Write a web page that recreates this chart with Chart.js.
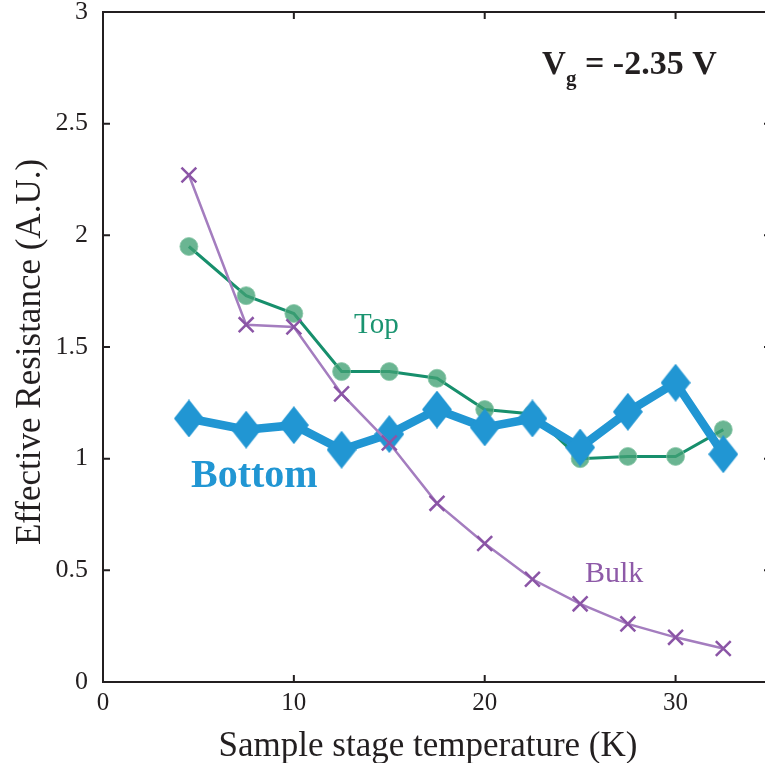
<!DOCTYPE html>
<html>
<head>
<meta charset="utf-8">
<script src="https://cdn.jsdelivr.net/npm/chart.js@4.4.1/dist/chart.umd.min.js"></script>
<style>
  html, body { margin: 0; padding: 0; overflow: hidden; background: #fff; }
  #resChart { display: block; width: 772px; height: 763px; }
</style>
</head>
<body>
<canvas id="resChart" width="772" height="763"></canvas>
<script>
// temperatures (K)
const temps = [4.5, 7.5, 10, 12.5, 15, 17.5, 20, 22.5, 25, 27.5, 30, 32.5];
// effective resistance, arbitrary units
const bulkRes   = [2.27, 1.60, 1.59, 1.29, 1.07, 0.80, 0.62, 0.46, 0.35, 0.26, 0.20, 0.15];
const topRes    = [1.95, 1.73, 1.65, 1.39, 1.39, 1.36, 1.22, 1.20, 1.00, 1.01, 1.01, 1.13];
const bottomRes = [1.18, 1.13, 1.15, 1.04, 1.11, 1.22, 1.14, 1.18, 1.05, 1.21, 1.34, 1.02];
const xTicks = [0, 10, 20, 30];
const yTicks = [0, 0.5, 1, 1.5, 2, 2.5, 3];

const serif = '"Liberation Serif", "Times New Roman", serif';
const ink = '#231f20';

const pts = arr => temps.map((t, i) => ({x: t, y: arr[i]}));

// tall diamond marker for the Bottom series
const diamond = document.createElement('canvas');
diamond.width = 30; diamond.height = 38;
(() => {
  const d = diamond.getContext('2d');
  d.fillStyle = '#2196d3';
  d.beginPath();
  d.moveTo(15, 0); d.lineTo(30, 19); d.lineTo(15, 38); d.lineTo(0, 19);
  d.closePath();
  d.fill();
})();

// box + inward tick marks + axis titles + in-plot labels
const framePlugin = {
  id: 'frame',
  afterDraw(chart) {
    const c = chart.ctx;
    const a = chart.chartArea;
    const xs = chart.scales.x, ys = chart.scales.y;
    c.save();
    c.strokeStyle = ink;
    c.lineWidth = 2;
    c.strokeRect(a.left, a.top, a.right - a.left, a.bottom - a.top);
    c.beginPath();
    xTicks.forEach(v => {
      const px = xs.getPixelForValue(v);
      c.moveTo(px, a.bottom); c.lineTo(px, a.bottom - 7);
      c.moveTo(px, a.top); c.lineTo(px, a.top + 7);
    });
    yTicks.forEach(v => {
      const py = ys.getPixelForValue(v);
      c.moveTo(a.left, py); c.lineTo(a.left + 7, py);
      c.moveTo(a.right, py); c.lineTo(a.right - 7, py);
    });
    c.stroke();

    // axis titles
    c.fillStyle = ink;
    c.font = '35px ' + serif;
    c.textAlign = 'center';
    c.textBaseline = 'alphabetic';
    c.fillText('Sample stage temperature (K)', 428, 756);
    c.save();
    c.translate(40, 352);
    c.rotate(-Math.PI / 2);
    c.fillText('Effective Resistance (A.U.)', 0, 0);
    c.restore();

    c.textAlign = 'left';
    c.fillStyle = '#1a9470';
    c.font = '29px ' + serif;
    c.fillText('Top', 354, 333);
    c.fillStyle = '#8e5aa8';
    c.font = '30px ' + serif;
    c.fillText('Bulk', 585, 582);
    c.fillStyle = '#2196d3';
    c.font = 'bold 40px ' + serif;
    c.fillText('Bottom', 191, 487);

    c.fillStyle = ink;
    c.font = 'bold 33px ' + serif;
    c.fillText('V', 542, 74);
    c.font = 'bold 21px ' + serif;
    c.fillText('g', 566, 85);
    c.font = 'bold 34px ' + serif;
    c.fillText('= -2.35 V', 585, 74);
    c.restore();
  }
};

new Chart(document.getElementById('resChart'), {
  type: 'line',
  data: {
    datasets: [{
      label: 'Bulk',
      data: pts(bulkRes),
      borderColor: '#a47dbf',
      borderWidth: 2.5,
      pointStyle: 'crossRot',
      pointRadius: 10.5,
      pointBorderWidth: 2.5,
      pointBorderColor: '#8b55a6',
      tension: 0,
      order: 1
    }, {
      label: 'Bottom',
      data: pts(bottomRes),
      borderColor: '#2196d3',
      backgroundColor: '#2196d3',
      borderWidth: 8.5,
      pointStyle: diamond,
      pointRadius: 15,
      pointBorderWidth: 0,
      tension: 0,
      order: 2
    }, {
      label: 'Top',
      data: pts(topRes),
      borderColor: '#178f6c',
      borderWidth: 3,
      pointStyle: 'circle',
      pointRadius: 9,
      pointBackgroundColor: 'rgba(64, 160, 115, 0.78)',
      pointBorderColor: 'rgba(140, 200, 170, 0.8)',
      pointBorderWidth: 1,
      tension: 0,
      order: 3
    }]
  },
  options: {
    responsive: false,
    animation: false,
    devicePixelRatio: 1,
    layout: { autoPadding: false, padding: { top: 12, right: 1, left: 0, bottom: 0 } },
    plugins: {
      legend: { display: false },
      tooltip: { enabled: false }
    },
    scales: {
      x: {
        type: 'linear',
        min: 0,
        max: 35,
        afterFit: s => { s.height = 81; s.paddingLeft = 0; s.paddingRight = 0; },
        afterBuildTicks: s => { s.ticks = xTicks.map(v => ({value: v})); },
        grid: { display: false, drawTicks: false },
        border: { display: false },
        ticks: { color: ink, font: { family: serif, size: 25 }, padding: 6 }
      },
      y: {
        min: 0,
        max: 3,
        afterFit: s => { s.width = 103; s.paddingTop = 0; s.paddingBottom = 0; },
        afterBuildTicks: s => { s.ticks = yTicks.map(v => ({value: v})); },
        grid: { display: false, drawTicks: false },
        border: { display: false },
        ticks: {
          color: ink,
          font: { family: serif, size: 26 },
          padding: 15,
          callback: v => String(v)
        }
      }
    }
  },
  plugins: [framePlugin]
});
</script>
</body>
</html>
